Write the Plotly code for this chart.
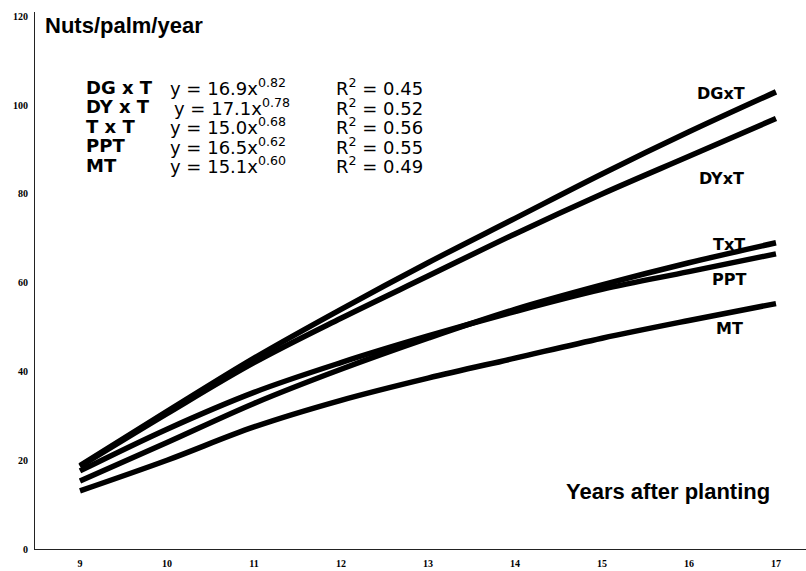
import plotly.graph_objects as go

# Years after planting
years = [9, 10, 11, 12, 13, 14, 15, 16, 17]

# Nuts per palm per year for each cross (fitted curves)
dgxt = [18.8, 31.0, 43.0, 54.0, 64.5, 74.5, 84.5, 94.0, 103.0]
dyxt = [18.6, 30.5, 42.0, 52.0, 61.5, 71.0, 80.0, 88.5, 97.0]
txt = [15.3, 24.0, 32.8, 40.5, 47.5, 54.0, 59.5, 64.5, 69.0]
ppt = [17.6, 27.0, 35.3, 42.0, 48.0, 53.5, 58.5, 62.5, 66.5]
mt = [13.1, 20.0, 27.5, 33.5, 38.5, 43.0, 47.5, 51.5, 55.3]

curve_labels = ["DGxT", "DYxT", "TxT", "PPT", "MT"]
curves = [dgxt, dyxt, txt, ppt, mt]

# Regression equations shown in the legend block
eq_names = ["DG x T", "DY x T", "T x T", "PPT", "MT"]
eq_coef = ["16.9", "17.1", "15.0", "16.5", "15.1"]
eq_power = ["0.82", "0.78", "0.68", "0.62", "0.60"]
eq_r2 = ["0.45", "0.52", "0.56", "0.55", "0.49"]

y_ticks = [0, 20, 40, 60, 80, 100, 120]

W, H = 806, 571
L, R, T, B = 35, 0, 12, 22


def px(x):
    return (x - L) / (W - L - R)


def py(y):
    return (H - B - y) / (H - T - B)


fig = go.Figure()
for name, vals in zip(curve_labels, curves):
    fig.add_trace(go.Scatter(
        x=years, y=vals, mode="lines", name=name,
        line=dict(color="black", width=5.5, shape="spline"),
        showlegend=False,
    ))

ann = []
# curve end labels
label_pos = [(721, 93), (721, 178), (729, 244), (729, 279), (729, 328)]
for name, (lx, ly) in zip(curve_labels, label_pos):
    ann.append(dict(x=px(lx), y=py(ly), xref="paper", yref="paper",
                    text=f"<b>{name}</b>", showarrow=False,
                    xanchor="center", yanchor="middle",
                    font=dict(family="DejaVu Sans", size=16, color="black")))

# equation block
row_y = [87, 106.5, 126, 145.5, 165]
eq_x = [168, 172, 168, 168, 168]
eq_font = dict(family="DejaVu Sans", size=18, color="black")
for i in range(len(eq_names)):
    ann.append(dict(x=px(84), y=py(row_y[i]), xref="paper", yref="paper",
                    text=f"<b>{eq_names[i]}</b>", showarrow=False,
                    xanchor="left", yanchor="middle", font=eq_font))
    ann.append(dict(x=px(eq_x[i]), y=py(row_y[i]), xref="paper", yref="paper",
                    text=f"y = {eq_coef[i]}x<sup>{eq_power[i]}</sup>",
                    showarrow=False, xanchor="left", yanchor="middle",
                    font=eq_font))
    ann.append(dict(x=px(334), y=py(row_y[i]), xref="paper", yref="paper",
                    text=f"R<sup>2</sup> = {eq_r2[i]}",
                    showarrow=False, xanchor="left", yanchor="middle",
                    font=eq_font))

# axis titles
ann.append(dict(x=px(43), y=py(25), xref="paper", yref="paper",
                text="<b>Nuts/palm/year</b>", showarrow=False,
                xanchor="left", yanchor="middle",
                font=dict(family="Liberation Sans", size=22, color="black")))
ann.append(dict(x=px(772), y=py(492), xref="paper", yref="paper",
                text="<b>Years after planting</b>", showarrow=False,
                xanchor="right", yanchor="middle",
                font=dict(family="Liberation Sans", size=22, color="black")))

fig.update_layout(
    width=W, height=H,
    margin=dict(l=L, r=R, t=T, b=B, autoexpand=False),
    paper_bgcolor="white", plot_bgcolor="white",
    annotations=ann,
    xaxis=dict(range=[8.483, 17.345], tickvals=years,
               ticktext=[str(v) for v in years],
               showgrid=False, zeroline=False, showline=True,
               linecolor="#222", linewidth=1, ticks="", automargin=False,
               ticklabelstandoff=5,
               tickfont=dict(family="Liberation Serif", size=10,
                             color="black", weight="bold")),
    yaxis=dict(range=[0, 121], tickvals=y_ticks,
               ticktext=[str(v) for v in y_ticks],
               showgrid=False, zeroline=False, showline=True,
               linecolor="#222", linewidth=1, ticks="", automargin=False,
               ticklabelstandoff=4,
               tickfont=dict(family="Liberation Serif", size=10,
                             color="black", weight="bold")),
)

fig.write_html("out.html")
